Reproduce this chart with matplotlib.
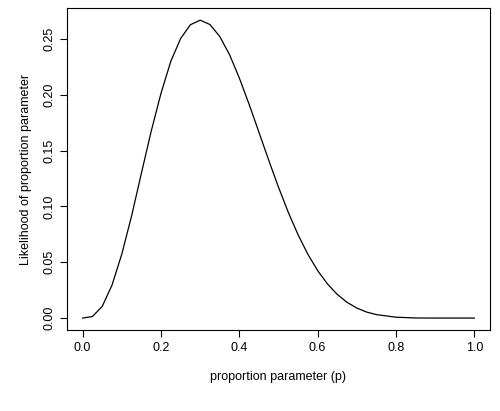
import numpy as np
import matplotlib
matplotlib.use('Agg')
import matplotlib.pyplot as plt

plt.rcParams['font.family'] = ['Liberation Sans', 'DejaVu Sans']

# values
p_values = [0.0, 0.025, 0.05, 0.075, 0.1, 0.125, 0.15, 0.175, 0.2, 0.225, 0.25, 0.275,
            0.3, 0.325, 0.35, 0.375, 0.4, 0.425, 0.45, 0.475, 0.5, 0.525, 0.55, 0.575,
            0.6, 0.625, 0.65, 0.675, 0.7, 0.725, 0.75, 0.8, 0.85, 0.9, 0.95, 1.0]
likelihood = [0.0, 0.0014, 0.0105, 0.0296, 0.0574, 0.0916, 0.1298, 0.1674, 0.2013, 0.2299,
              0.2503, 0.2627, 0.2668, 0.2629, 0.2522, 0.2359, 0.2150, 0.1914, 0.1665, 0.1414,
              0.1172, 0.0947, 0.0746, 0.0571, 0.0425, 0.0306, 0.0212, 0.0141, 0.0090, 0.0054,
              0.0031, 0.0008, 0.0001, 0.0000, 0.0, 0.0]
x_ticks = [0.0, 0.2, 0.4, 0.6, 0.8, 1.0]
y_ticks = [0.00, 0.05, 0.10, 0.15, 0.20, 0.25]

fig = plt.figure(figsize=(5, 4.11), dpi=100)
ax = fig.add_axes([0.134, 0.197, 0.846, 0.783])
ax.plot(p_values, likelihood, color='black', linewidth=0.9)

ax.set_xlim(-0.04, 1.04)
ax.set_ylim(-0.0107, 0.2775)
ax.set_xticks(x_ticks)
ax.set_xticklabels([f'{v:.1f}' for v in x_ticks])
ax.set_yticks(y_ticks)
ax.set_yticklabels([f'{v:.2f}' for v in y_ticks], rotation=90, va='center')
ax.tick_params(direction='out', length=5, labelsize=9, width=0.8)
for s in ax.spines.values():
    s.set_linewidth(0.8)

ax.set_xlabel('proportion parameter (p)', fontsize=9, labelpad=12)
ax.set_ylabel('Likelihood of proportion parameter', fontsize=9, labelpad=8)

fig.savefig('out.png', dpi=100)
